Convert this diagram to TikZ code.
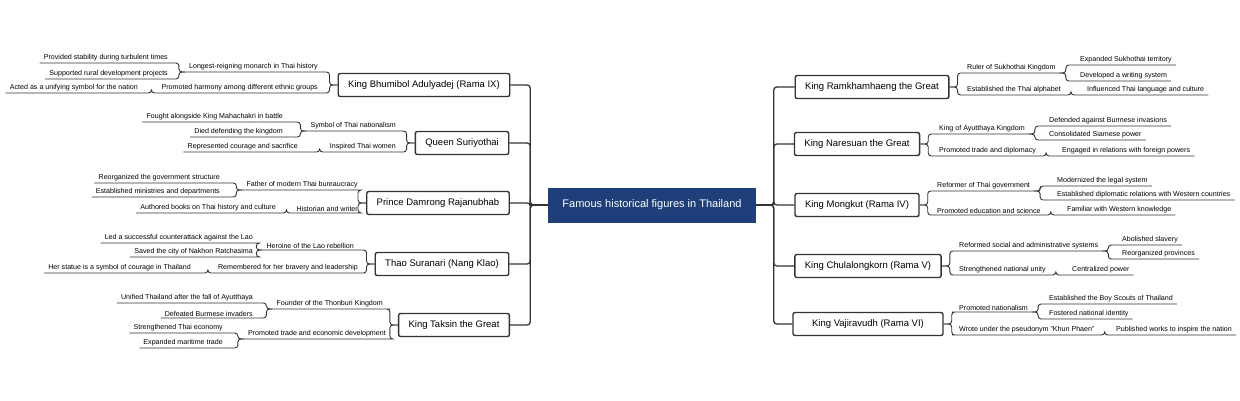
\documentclass[tikz,border=0pt]{standalone}
\usepackage{fontspec}
\setmainfont{Liberation Sans}
\definecolor{rootblue}{HTML}{1F3F7A}
\definecolor{linegray}{HTML}{333333}
\tikzset{
  root/.style={draw=rootblue,fill=rootblue,text=white,minimum height=34pt,inner xsep=14pt,font=\fontsize{11}{13}\selectfont},
  topic/.style={draw=linegray,line width=1.4pt,rounded corners=2pt,fill=white,minimum height=23pt,inner xsep=10pt,font=\fontsize{9.5}{11}\selectfont},
  sub/.style={inner xsep=4pt,inner ysep=1.5pt,font=\fontsize{7.1}{8}\selectfont},
  link/.style={draw=linegray,line width=0.9pt,rounded corners=3pt},
}
\begin{document}
\begin{tikzpicture}[x=1pt,y=-1pt]
\useasboundingbox (0,0) rectangle (1240,400);
\node[root] (root) at (652,205) {Famous historical figures in Thailand};
% left topics
\node[topic] (bhumi) at (424,85) {King Bhumibol Adulyadej (Rama IX)};
\node[topic] (suri) at (462,143) {Queen Suriyothai};
\node[topic] (damrong) at (438,203) {Prince Damrong Rajanubhab};
\node[topic] (thao) at (442,264) {Thao Suranari (Nang Klao)};
\node[topic] (taksin) at (454,325) {King Taksin the Great};
% right topics
\node[topic] (ramk) at (872,87) {King Ramkhamhaeng the Great};
\node[topic] (nare) at (857,144) {King Naresuan the Great};
\node[topic] (mong) at (857,205) {King Mongkut (Rama IV)};
\node[topic] (chula) at (868,266) {King Chulalongkorn (Rama V)};
\node[topic,minimum width=150pt] (vaji) at (868,324) {King Vajiravudh (Rama VI)};

% left subtopics
\node[sub,anchor=south east] (bhumiA) at (322,72) {Longest-reigning monarch in Thai history};
\node[sub,anchor=south east] (bhumiB) at (322,93) {Promoted harmony among different ethnic groups};
\node[sub,anchor=south east] (bhumiA1) at (172,63) {Provided stability during turbulent times};
\node[sub,anchor=south east] (bhumiA2) at (172,79) {Supported rural development projects};
\node[sub,anchor=south east] (bhumiB1) at (142,93) {Acted as a unifying symbol for the nation};

\node[sub,anchor=south east] (suriA) at (400,131) {Symbol of Thai nationalism};
\node[sub,anchor=south east] (suriB) at (400,152) {Inspired Thai women};
\node[sub,anchor=south east] (suriA1) at (287,122) {Fought alongside King Mahachakri in battle};
\node[sub,anchor=south east] (suriA2) at (287,137) {Died defending the kingdom};
\node[sub,anchor=south east] (suriB1) at (302,152) {Represented courage and sacrifice};

\node[sub,anchor=south east] (damA) at (362,190) {Father of modern Thai bureaucracy};
\node[sub,anchor=south east] (damB) at (362,213) {Historian and writer};
\node[sub,anchor=south east] (damA1) at (224,183) {Reorganized the government structure};
\node[sub,anchor=south east] (damA2) at (224,197) {Established ministries and departments};
\node[sub,anchor=south east] (damB1) at (280,213) {Authored books on Thai history and culture};

\node[sub,anchor=south east] (thaoA) at (358,250) {Heroine of the Lao rebellion};
\node[sub,anchor=south east] (thaoB) at (362,273) {Remembered for her bravery and leadership};
\node[sub,anchor=south east] (thaoA1) at (257,243) {Led a successful counterattack against the Lao};
\node[sub,anchor=south east] (thaoA2) at (257,257) {Saved the city of Nakhon Ratchasima};
\node[sub,anchor=south east] (thaoB1) at (195,273) {Her statue is a symbol of courage in Thailand};

\node[sub,anchor=south east] (takA) at (387,309) {Founder of the Thonburi Kingdom};
\node[sub,anchor=south east] (takB) at (390,339) {Promoted trade and economic development};
\node[sub,anchor=south east] (takA1) at (257,303) {Unified Thailand after the fall of Ayutthaya};
\node[sub,anchor=south east] (takA2) at (257,318) {Defeated Burmese invaders};
\node[sub,anchor=south east] (takB1) at (227,333) {Strengthened Thai economy};
\node[sub,anchor=south east] (takB2) at (227,348) {Expanded maritime trade};

% right subtopics
\node[sub,anchor=south west] (ramkA) at (963,73) {Ruler of Sukhothai Kingdom};
\node[sub,anchor=south west] (ramkB) at (963,95) {Established the Thai alphabet};
\node[sub,anchor=south west] (ramkA1) at (1076,65) {Expanded Sukhothai territory};
\node[sub,anchor=south west] (ramkA2) at (1076,81) {Developed a writing system};
\node[sub,anchor=south west] (ramkB1) at (1083,95) {Influenced Thai language and culture};

\node[sub,anchor=south west] (nareA) at (935,134) {King of Ayutthaya Kingdom};
\node[sub,anchor=south west] (nareB) at (935,156) {Promoted trade and diplomacy};
\node[sub,anchor=south west] (nareA1) at (1045,126) {Defended against Burmese invasions};
\node[sub,anchor=south west] (nareA2) at (1045,140) {Consolidated Siamese power};
\node[sub,anchor=south west] (nareB1) at (1058,156) {Engaged in relations with foreign powers};

\node[sub,anchor=south west] (mongA) at (933,191) {Reformer of Thai government};
\node[sub,anchor=south west] (mongB) at (933,215) {Promoted education and science};
\node[sub,anchor=south west] (mongA1) at (1053,186) {Modernized the legal system};
\node[sub,anchor=south west] (mongA2) at (1053,200) {Established diplomatic relations with Western countries};
\node[sub,anchor=south west] (mongB1) at (1063,215) {Familiar with Western knowledge};

\node[sub,anchor=south west] (chulaA) at (955,251) {Reformed social and administrative systems};
\node[sub,anchor=south west] (chulaB) at (955,275) {Strengthened national unity};
\node[sub,anchor=south west] (chulaA1) at (1118,245) {Abolished slavery};
\node[sub,anchor=south west] (chulaA2) at (1118,259) {Reorganized provinces};
\node[sub,anchor=south west] (chulaB1) at (1068,275) {Centralized power};

\node[sub,anchor=south west] (vajiA) at (955,312) {Promoted nationalism};
\node[sub,anchor=south west] (vajiB) at (955,335) {Wrote under the pseudonym "Khun Phaen"};
\node[sub,anchor=south west] (vajiA1) at (1045,304) {Established the Boy Scouts of Thailand};
\node[sub,anchor=south west] (vajiA2) at (1045,319) {Fostered national identity};
\node[sub,anchor=south west] (vajiB1) at (1112,335) {Published works to inspire the nation};

% trunks
\foreach \t in {bhumi,suri,damrong,thao,taksin}
  \draw[link,line width=1.3pt] (root.west) -- ++(-18,0) |- (\t.east);
\foreach \t in {ramk,nare,mong,chula,vaji}
  \draw[link,line width=1.3pt] (root.east) -- ++(18,0) |- (\t.west);

% left branches
\foreach \t/\s in {bhumi/bhumiA,bhumi/bhumiB,suri/suriA,suri/suriB,damrong/damA,damrong/damB,thao/thaoA,thao/thaoB,taksin/takA,taksin/takB}
  \draw[link] (\t.west) -- ++(-8,0) |- (\s.south east) -- (\s.south west);
\foreach \s/\l in {bhumiA/bhumiA1,bhumiA/bhumiA2,bhumiB/bhumiB1,suriA/suriA1,suriA/suriA2,suriB/suriB1,damA/damA1,damA/damA2,damB/damB1,thaoA/thaoA1,thaoA/thaoA2,thaoB/thaoB1,takA/takA1,takA/takA2,takB/takB1,takB/takB2}
  \draw[link] (\s.south west) -- ++(-6,0) |- (\l.south east) -- (\l.south west);

% right branches
\foreach \t/\s in {ramk/ramkA,ramk/ramkB,nare/nareA,nare/nareB,mong/mongA,mong/mongB,chula/chulaA,chula/chulaB,vaji/vajiA,vaji/vajiB}
  \draw[link] (\t.east) -- ++(8,0) |- (\s.south west) -- (\s.south east);
\foreach \s/\l in {ramkA/ramkA1,ramkA/ramkA2,ramkB/ramkB1,nareA/nareA1,nareA/nareA2,nareB/nareB1,mongA/mongA1,mongA/mongA2,mongB/mongB1,chulaA/chulaA1,chulaA/chulaA2,chulaB/chulaB1,vajiA/vajiA1,vajiA/vajiA2,vajiB/vajiB1}
  \draw[link] (\s.south east) -- ++(6,0) |- (\l.south west) -- (\l.south east);
\end{tikzpicture}
\end{document}
